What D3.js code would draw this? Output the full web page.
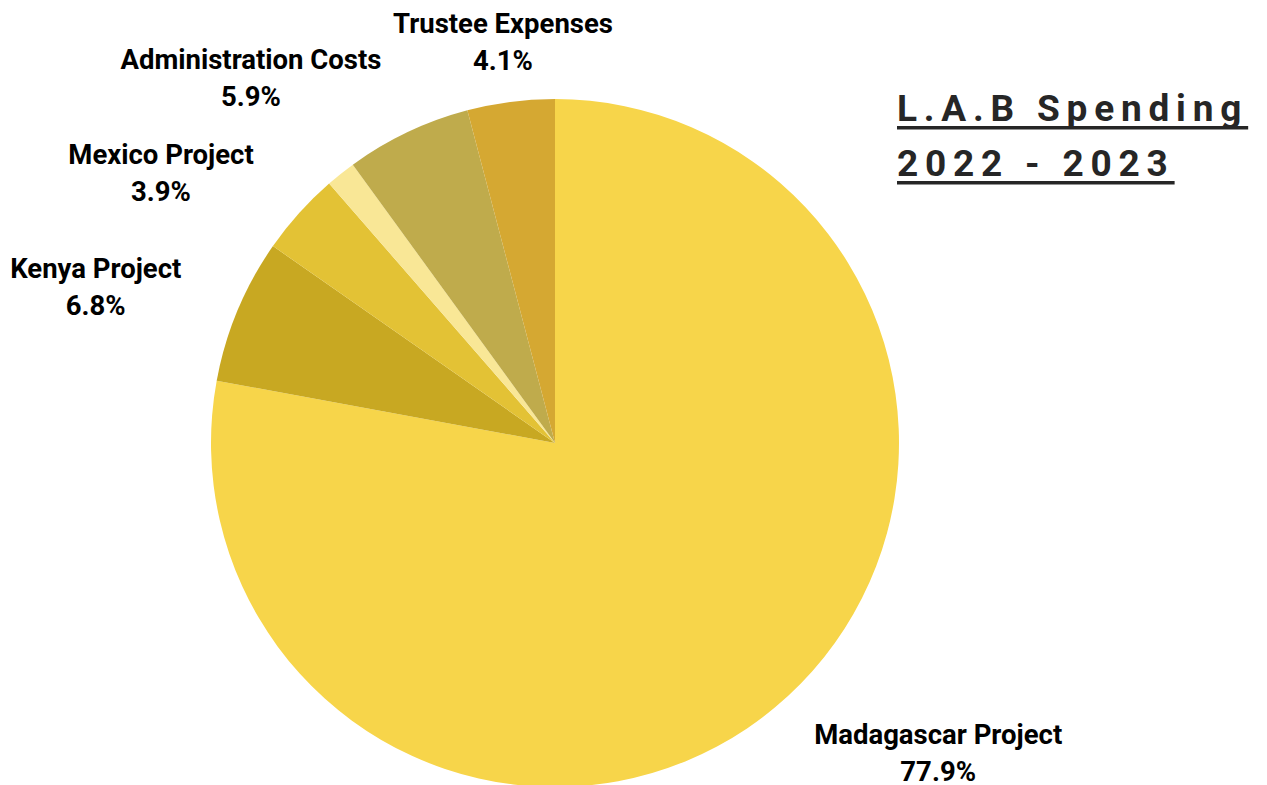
<!DOCTYPE html>
<html>
<head>
<meta charset="utf-8">
<script src="https://cdn.jsdelivr.net/npm/d3@7"></script>
<style>
  body { margin: 0; background: #ffffff; }
  svg { display: block; }
  text { font-family: Roboto, "Liberation Sans", sans-serif; }
</style>
</head>
<body>
<svg width="1267" height="785"></svg>
<script>
// slices, clockwise from 12 o'clock
var categories = ["Madagascar Project", "Kenya Project", "Mexico Project", "Other", "Administration Costs", "Trustee Expenses"];
var shares = [77.9, 6.8, 3.9, 1.4, 5.9, 4.1];
var sliceColors = ["#F7D54A", "#C8A822", "#E3C235", "#F9E796", "#BFAB4C", "#D5A832"];
var titleLines = ["L.A.B Spending", "2022 - 2023"];

var svg = d3.select("svg");
var cx = 555, cy = 443, radius = 344;

var pie = d3.pie().sort(null).value(function(d){ return d; });
var arc = d3.arc().innerRadius(0).outerRadius(radius);
var arcs = pie(shares);

var chart = svg.append("g").attr("transform", "translate(" + cx + "," + cy + ")");

//Slices
chart.selectAll("path")
  .data(arcs)
  .enter()
  .append("path")
  .attr("d", arc)
  .style("fill", function(d, i){ return sliceColors[i]; });

//Labels (tiny slices get none)
var fmt = d3.format(".1f");
arcs.forEach(function(d, i)
{
  if (d.value < 2) return;
  var g = chart.append("g");
  g.append("text")
    .attr("text-anchor", "middle")
    .attr("y", 0)
    .style("font-size", "27.5px")
    .style("font-weight", "700")
    .style("fill", "#000")
    .text(categories[i]);
  g.append("text")
    .attr("text-anchor", "middle")
    .attr("y", 37)
    .style("font-size", "27.5px")
    .style("font-weight", "700")
    .style("fill", "#000")
    .text(fmt(d.value) + "%");

  var a = (d.startAngle + d.endAngle) / 2;
  var s = Math.sin(a), c = Math.cos(a);
  var box = g.node().getBBox();
  var px = 405 * s, py = -369 * c;
  var f = Math.max(0, Math.min(1, (Math.abs(s) - 0.15) / 0.25));
  var mx = px + Math.sign(s) * f * box.width / 2;
  var my = py - c * box.height / 2;
  var tx = mx - (box.x + box.width / 2);
  var ty = my - (box.y + box.height / 2);
  g.attr("transform", "translate(" + tx + "," + ty + ")");
});

//Title
var title = svg.append("g").attr("transform", "translate(897,0)");
titleLines.forEach(function(line, i)
{
  var t = title.append("text")
    .attr("x", 0)
    .attr("y", 121 + i * 55)
    .style("font-size", "37px")
    .style("font-weight", "700")
    .style("letter-spacing", "6.8px")
    .style("fill", "#262626")
    .text(line);
  var w = t.node().getComputedTextLength();
  title.append("rect")
    .attr("x", 0)
    .attr("y", 126 + i * 55)
    .attr("width", w)
    .attr("height", 3.5)
    .style("fill", "#262626");
});
</script>
</body>
</html>
